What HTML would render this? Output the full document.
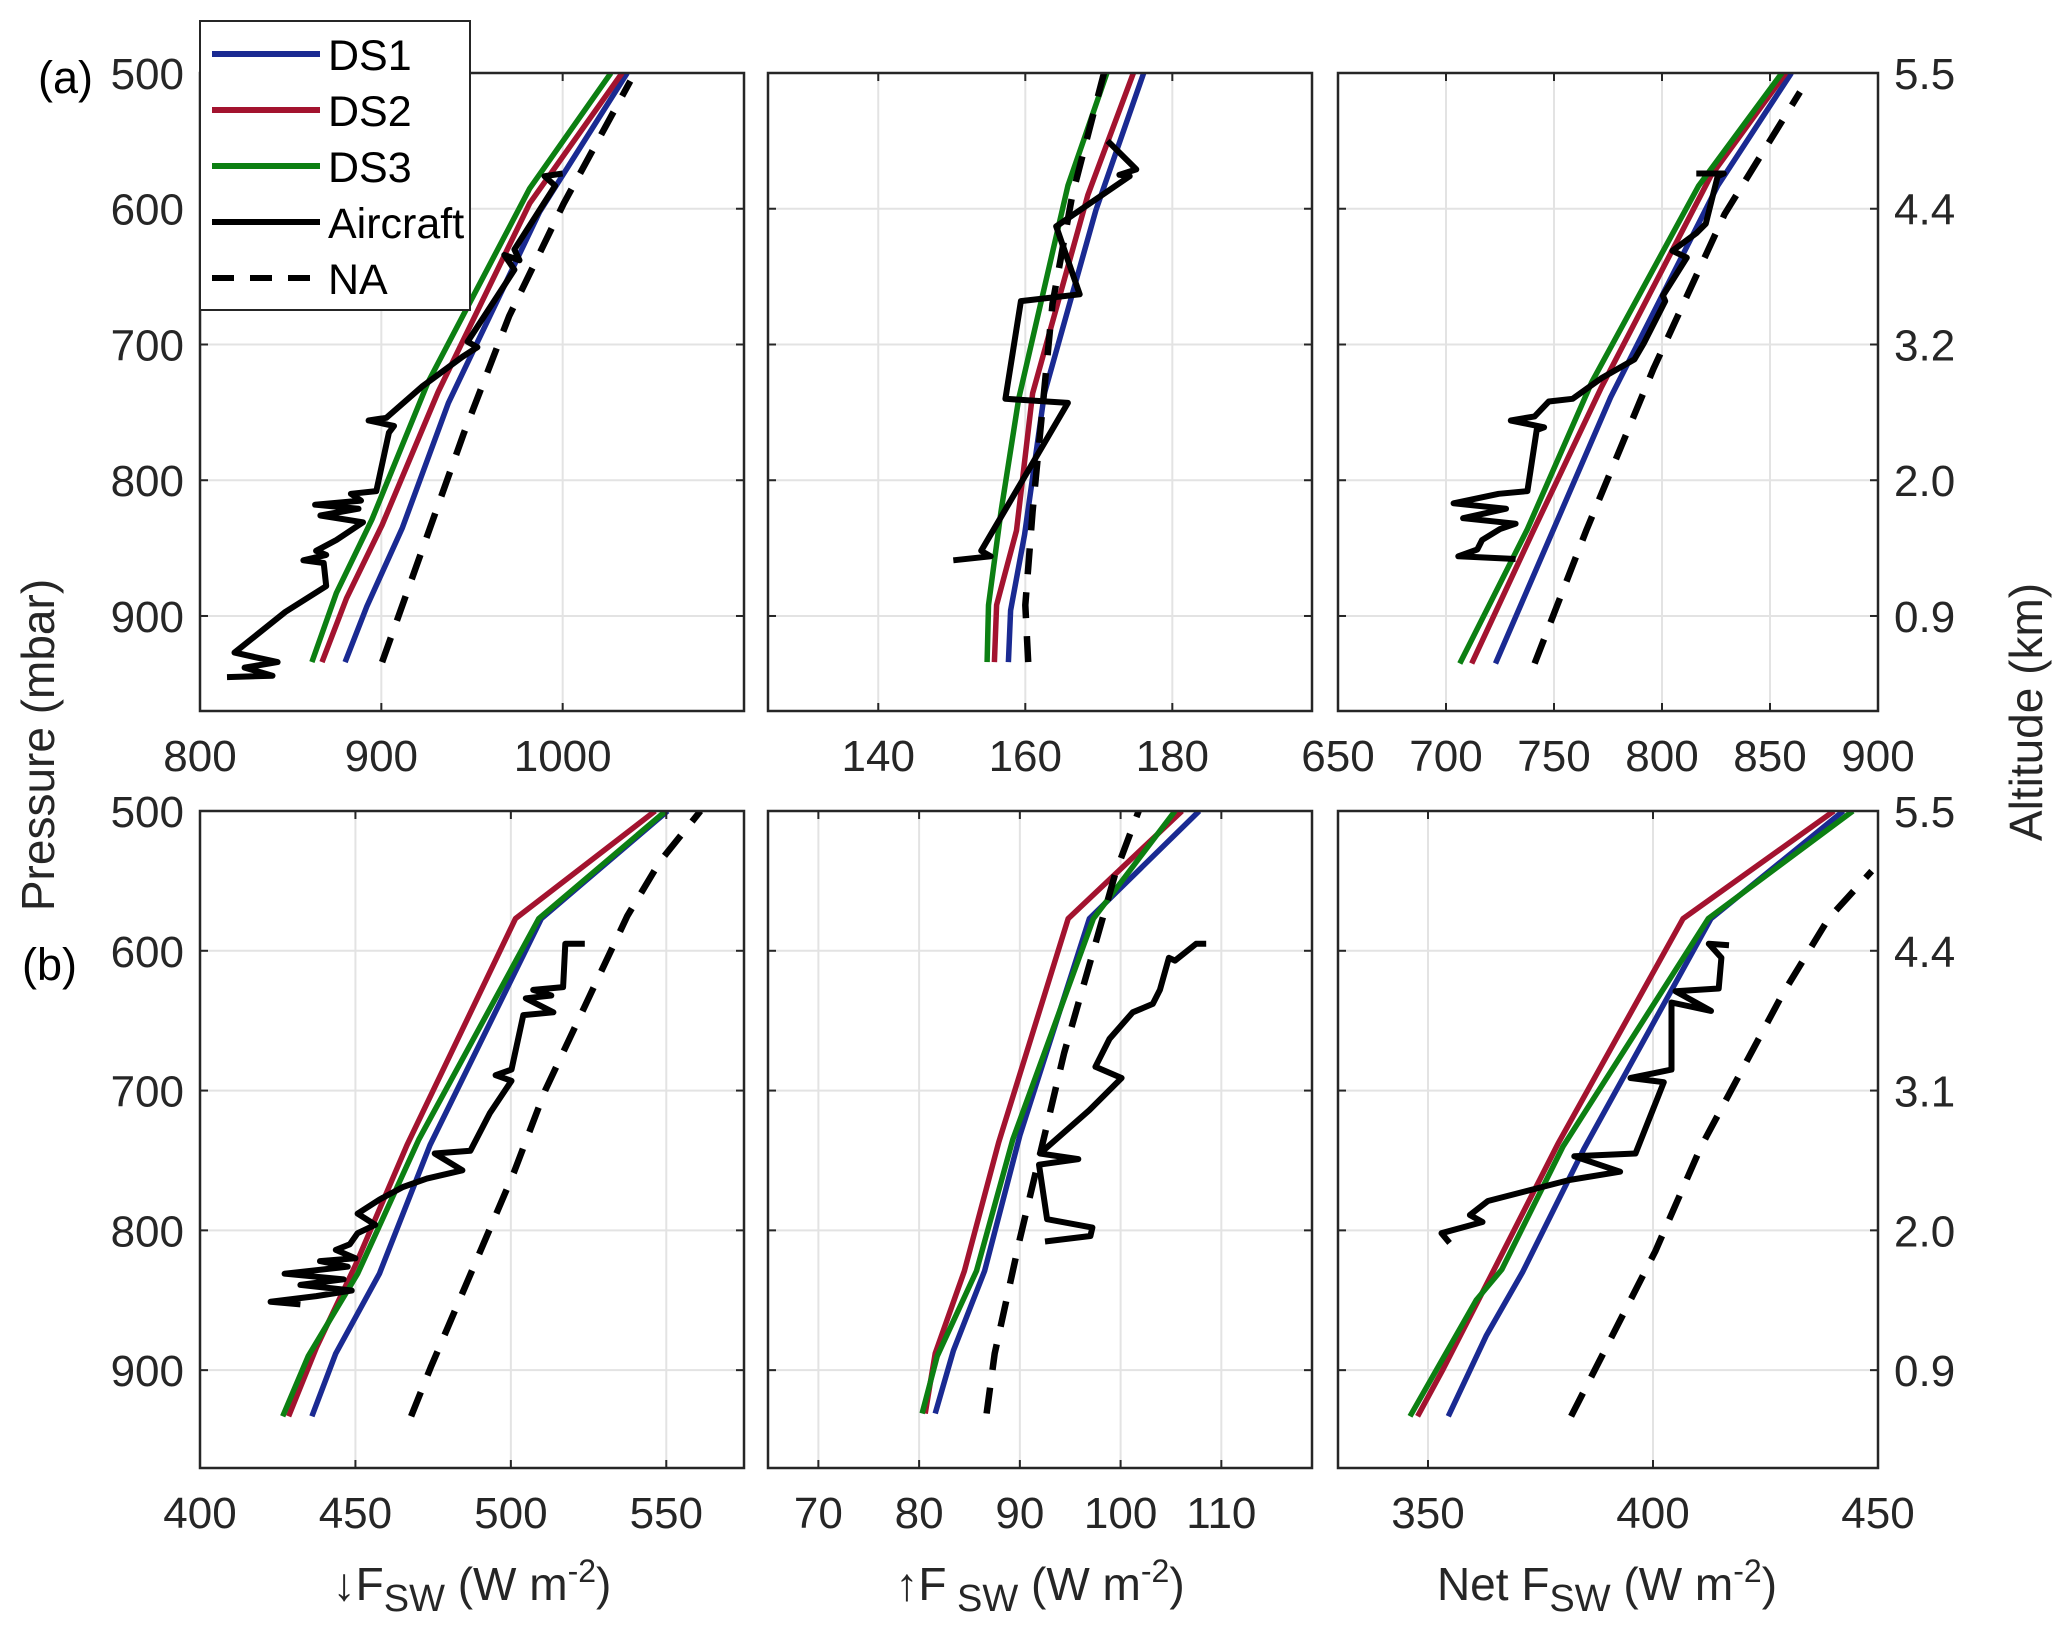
<!DOCTYPE html>
<html><head><meta charset="utf-8"><style>
body{margin:0;background:#fff}
svg{display:block;font-family:"Liberation Sans",Arial,sans-serif}
</style></head><body>
<svg id="fig" width="2067" height="1636" viewBox="0 0 2067 1636" xmlns="http://www.w3.org/2000/svg">
<g id="axes-layer"></g>
<g id="text-layer" fill="#262626" font-size="44">
<text x="38" y="93" font-size="45" fill="#000">(a)</text>
<text x="22" y="980" font-size="45" fill="#000">(b)</text>
<text transform="translate(54,745) rotate(-90)" text-anchor="middle" font-size="46">Pressure (mbar)</text>
<text transform="translate(2042,712) rotate(-90)" text-anchor="middle" font-size="46">Altitude (km)</text>
<text x="472" y="1600" text-anchor="middle" font-size="46">↓F<tspan font-size="38" dy="11">SW</tspan><tspan dy="-11"> (W m</tspan><tspan font-size="32" dy="-18">-2</tspan><tspan dy="18">)</tspan></text>
<text x="1040" y="1600" text-anchor="middle" font-size="46">↑F<tspan font-size="38" dy="11"> SW</tspan><tspan dy="-11">  (W m</tspan><tspan font-size="32" dy="-18">-2</tspan><tspan dy="18">)</tspan></text>
<text x="1607" y="1600" text-anchor="middle" font-size="46">Net F<tspan font-size="38" dy="11">SW</tspan><tspan dy="-11"> (W m</tspan><tspan font-size="32" dy="-18">-2</tspan><tspan dy="18">)</tspan></text>
</g>
<g id="legend"></g>
</svg>
<script>
// pressure ticks & altitude labels
const pressureTicks = [500, 600, 700, 800, 900];
const altLabelsA = ["5.5", "4.4", "3.2", "2.0", "0.9"];
const altLabelsB = ["5.5", "4.4", "3.1", "2.0", "0.9"];

// Panel a1: downwelling
const a1Ticks = [800, 900, 1000];
const a1DS1 = [[880,934],[892,893],[911.6,835],[937,743],[987.4,602],[1035.6,500]];
const a1DS2 = [[867.3,934],[880.8,887],[900.4,833],[931.3,735],[981.8,596],[1032.8,500]];
const a1DS3 = [[861.7,934],[875.2,883],[894.8,829],[925.7,728],[981.8,585],[1026.6,500]];
const a1NA = [[900.4,934],[945.3,766],[970.5,679],[1000.6,596],[1037.3,506]];
const a1Air = [[1000,574],[990,576],[995.8,583],[973.4,630],[976.2,638],[967.8,634],[973.4,645],[947.6,698],[953,702],[944.8,709],[922.4,731],[902.8,754],[893,756],[907,760],[904.2,765],[897.2,808],[883.2,810],[888.8,815],[863.5,818],[887.4,821],[866.4,826],[889.9,831],[875.2,844],[864,852],[869.6,855],[857,859],[868.2,861],[869.6,878],[847.1,897],[819,927],[842.8,934],[824.6,938],[840,944],[814.9,945]];

// Panel a2: upwelling
const a2Ticks = [140, 160, 180];
const a2DS1 = [[157.7,934],[158,896],[159.9,840],[162.6,736],[169.6,601],[176.1,500]];
const a2DS2 = [[155.8,934],[156.1,892],[158.8,837],[161,736],[168.5,590],[174.7,500]];
const a2DS3 = [[154.8,934],[155,892],[156.7,823],[159.1,740],[165.8,583],[171.1,500]];
const a2NA = [[160.4,934],[160,892],[161,823],[163.7,670],[166.4,590],[170.7,500]];
const a2Air = [[171.2,550],[175.1,571],[172.8,575],[174.2,576],[164.2,613],[167.4,663],[159.4,668],[157.3,740],[165.8,743],[154,852],[155.3,856],[150.2,859]];

// Panel a3: net
const a3Ticks = [650, 700, 750, 800, 850, 900];
const a3DS1 = [[722.9,935],[749.8,836],[776.2,739],[825.8,583],[859.9,500]];
const a3DS2 = [[711.9,935],[739.9,839],[771.8,732],[822.5,576],[857.3,500]];
const a3DS3 = [[706.4,935],[737.7,836],[767.4,728],[817,583],[855.5,500]];
const a3NA = [[741,935],[765.2,836],[796,718],[829,604],[863.9,514]];
const a3Air = [[815.9,574],[828.6,574],[825.8,576],[820.3,611],[815.9,618],[804.8,631],[811.5,636],[800.4,664],[801.5,668],[791.6,699],[787.2,711],[771.8,725],[758.6,740],[747.6,742],[741,753],[730,756],[745.4,761],[742,763],[737.7,808],[724.4,810],[703.5,817],[727.8,821],[707.9,828],[732.2,832],[725,836],[716.7,844],[714.5,851],[705.7,856],[732.2,858]];

// Panel b1
const b1Ticks = [400, 450, 500, 550];
const b1DS1 = [[436,933],[443.7,888],[457.7,831],[474,739],[509.8,577],[550.4,500]];
const b1DS2 = [[428.5,933],[437.4,884],[450,825],[466.6,739],[501.5,577],[546.4,500]];
const b1DS3 = [[426.6,933],[434.8,890],[450.7,831],[470.4,735],[509,577],[549.8,500]];
const b1NA = [[467.9,933],[474.2,898],[500.9,759],[511,700],[537.5,575],[548,536],[561,500]];
const b1Air = [[523.8,595],[517.5,595],[516.8,626],[507.2,628],[513,632],[504.8,634],[513.7,644],[504,646],[500.2,685],[495.1,689],[500.2,693],[493.3,716],[487,743],[475.5,745],[484.4,757],[473,763],[465.3,769],[457.7,778],[450.7,788],[456.4,796],[450.7,802],[448.2,810],[443.7,814],[450,820],[438.6,822],[447.5,826],[427.2,831],[446.2,835],[432.3,839],[448.8,843],[437.4,847],[422.7,851],[432.3,853]];

// Panel b2
const b2Ticks = [70, 80, 90, 100, 110];
const b2DS1 = [[81.6,931],[83.4,886],[86.5,829],[90,732],[96.9,577],[107.8,500]];
const b2DS2 = [[80.6,931],[81.6,888],[84.5,829],[87.9,737],[94.8,577],[106.1,500]];
const b2DS3 = [[80.3,931],[81.8,890],[85.7,829],[89.3,735],[97.3,577],[105.4,500]];
const b2NA = [[86.7,931],[87.5,888],[90,806],[94.4,673],[97.5,595],[99.5,544],[101.8,500]];
const b2Air = [[108.5,595],[107.5,595],[105.4,607],[104.8,605],[103.9,628],[103.2,638],[101.2,644],[98.9,663],[97.5,683],[100.1,691],[96.9,714],[92,745],[95.8,749],[91.9,753],[92.7,792],[97.2,798],[97,804],[92.5,808]];

// Panel b3
const b3Ticks = [350, 400, 450];
const b3DS1 = [[354.5,933],[363,875],[371,830],[384.6,742],[412.9,577],[442.3,500]];
const b3DS2 = [[347.7,933],[353.4,899],[364.7,828],[378.9,738],[406.7,577],[440.2,500]];
const b3DS3 = [[346,933],[360.7,850],[366.4,828],[380,740],[412.3,577],[444.4,500]];
const b3NA = [[381.8,933],[386.9,901],[400.5,815],[410.7,740],[428.8,631],[439,577],[448.6,543]];
const b3Air = [[416.9,596],[412.4,595],[415.2,605],[414.6,627],[405,629],[412.9,643],[404.1,637],[404.1,685],[395,691],[402.4,694],[396.1,745],[382.5,747],[392.7,758],[381.4,764],[363.3,779],[359.3,789],[362.1,794],[353,802],[354.8,809]];

const NS = "http://www.w3.org/2000/svg";
const axesLayer = document.getElementById("axes-layer");
const COLORS = {ds1:"#1a2a92", ds2:"#a3132f", ds3:"#0c7f12", air:"#000", na:"#000"};
const P_MIN = 500, P_MAX = 970;

function mk(tag, attrs, parent){
  const e = document.createElementNS(NS, tag);
  for (const k in attrs) e.setAttribute(k, attrs[k]);
  parent.appendChild(e);
  return e;
}

function panel(name, box, xmin, xmax, ticks, series, altLabels, showTickLabelY){
  const g = mk("g", {}, axesLayer);
  
  
  const [L, T, R, B] = box;
  const sx = v => L + (v - xmin) / (xmax - xmin) * (R - L);
  const sy = p => T + (p - P_MIN) / (P_MAX - P_MIN) * (B - T);
  ticks.forEach(t => {
    const x = sx(t);
    if (x > L + 1 && x < R - 1) {
      const gl = mk("line", {x1:x, x2:x, y1:T, y2:B, stroke:"#e3e3e3", "stroke-width":2}, g);
      
      
    }
  });
  pressureTicks.forEach(p => {
    const y = sy(p);
    if (y > T + 1) {
      const gl = mk("line", {x1:L, x2:R, y1:y, y2:y, stroke:"#e3e3e3", "stroke-width":2}, g);
      
      
    }
  });
  const cid = name + "-clip";
  const cp = mk("clipPath", {id:cid}, g);
  mk("rect", {x:L, y:T, width:R-L, height:B-T}, cp);
  const lines = mk("g", {"clip-path":"url(#"+cid+")"}, g);
  series.forEach(s => {
    const d = s.data.map((pt,i) => (i ? "L" : "M") + sx(pt[0]).toFixed(1) + "," + sy(pt[1]).toFixed(1)).join(" ");
    const path = mk("path", {d:d, fill:"none", stroke:s.color, "stroke-width":s.w, "stroke-linejoin":"round", "stroke-dasharray":s.dash||"none"}, lines);
    
    
  });
  const fr = mk("rect", {x:L, y:T, width:R-L, height:B-T, fill:"none", stroke:"#262626", "stroke-width":2.5}, g);
  
  
  ticks.forEach(t => {
    const x = sx(t);
    mk("line", {x1:x, x2:x, y1:B, y2:B-8, stroke:"#262626", "stroke-width":2}, g);
    mk("line", {x1:x, x2:x, y1:T, y2:T+8, stroke:"#262626", "stroke-width":2}, g);
    const tl = mk("text", {x:x, y:B+60, "text-anchor":"middle", "font-size":44, fill:"#262626"}, g);
    tl.textContent = t;
    
    
  });
  pressureTicks.forEach((p, i) => {
    const y = sy(p);
    mk("line", {x1:L, x2:L+8, y1:y, y2:y, stroke:"#262626", "stroke-width":2}, g);
    mk("line", {x1:R, x2:R-8, y1:y, y2:y, stroke:"#262626", "stroke-width":2}, g);
    if (showTickLabelY) {
      const tl = mk("text", {x:L-16, y:y+16, "text-anchor":"end", "font-size":44, fill:"#262626"}, g);
      tl.textContent = p;
      
      
    }
    if (altLabels) {
      const al = mk("text", {x:R+16, y:y+16, "text-anchor":"start", "font-size":44, fill:"#262626"}, g);
      al.textContent = altLabels[i];
      
      
    }
  });
}

function S(ds1, ds2, ds3, na, air){
  return [
    {name:"ds1-line", data:ds1, color:COLORS.ds1, w:5.5},
    {name:"ds2-line", data:ds2, color:COLORS.ds2, w:5.5},
    {name:"ds3-line", data:ds3, color:COLORS.ds3, w:5.5},
    {name:"na-line", data:na, color:COLORS.na, w:6.5, dash:"26 18"},
    {name:"aircraft-line", data:air, color:COLORS.air, w:6}
  ];
}

const rowA = [73, 711], rowB = [811, 1468];
panel("panel-a-down", [200,rowA[0],744,rowA[1]], 800, 1100, a1Ticks, S(a1DS1,a1DS2,a1DS3,a1NA,a1Air), null, true);
panel("panel-a-up", [768,rowA[0],1312,rowA[1]], 125, 199, a2Ticks, S(a2DS1,a2DS2,a2DS3,a2NA,a2Air), null, false);
panel("panel-a-net", [1338,rowA[0],1878,rowA[1]], 650, 900, a3Ticks, S(a3DS1,a3DS2,a3DS3,a3NA,a3Air), altLabelsA, false);
panel("panel-b-down", [200,rowB[0],744,rowB[1]], 400, 575, b1Ticks, S(b1DS1,b1DS2,b1DS3,b1NA,b1Air), null, true);
panel("panel-b-up", [768,rowB[0],1312,rowB[1]], 65, 119, b2Ticks, S(b2DS1,b2DS2,b2DS3,b2NA,b2Air), null, false);
panel("panel-b-net", [1338,rowB[0],1878,rowB[1]], 330, 450, b3Ticks, S(b3DS1,b3DS2,b3DS3,b3NA,b3Air), altLabelsB, false);

const leg = document.getElementById("legend");
mk("rect", {x:200, y:21, width:270, height:289, fill:"#fff", stroke:"#262626", "stroke-width":2}, leg);
const legNames = ["DS1","DS2","DS3","Aircraft","NA"];
const legColors = [COLORS.ds1, COLORS.ds2, COLORS.ds3, "#000", "#000"];
legNames.forEach((n, i) => {
  const y = 54 + i * 56;
  const ln = mk("line", {x1:212, x2:320, y1:y, y2:y, stroke:legColors[i], "stroke-width":6, "stroke-dasharray": n==="NA" ? "22 16" : "none"}, leg);
  
  
  const t = mk("text", {x:328, y:y+16, "font-size":43, fill:"#000"}, leg);
  t.textContent = n;
  
  
});
</script>
</body></html>
